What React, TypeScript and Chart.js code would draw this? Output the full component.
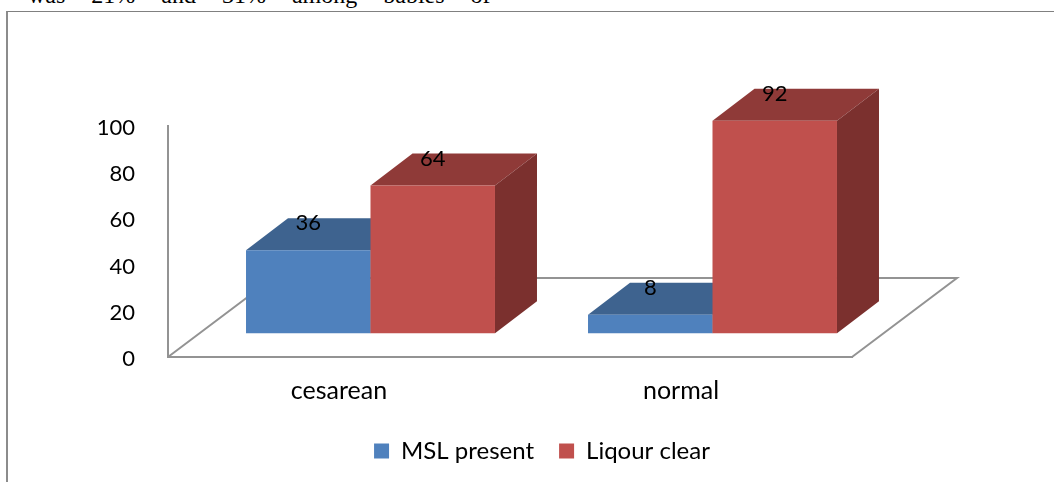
import React, { useEffect, useRef } from "react";
import { Chart, registerables } from "chart.js";

Chart.register(...registerables);

const categories = ["cesarean", "normal"];
const mslPresent = [36, 8];
const liqourClear = [64, 92];
const yMin = 0;
const yMax = 100;
const yStep = 20;

const BLUE = "#4f81bd";
const BLUE_TOP = "#3e638f";
const BLUE_SIDE = "#34537a";
const RED = "#c0504d";
const RED_TOP = "#8f3a38";
const RED_SIDE = "#7b302e";
const AXIS = "#939393";
const FONT = "Lato";

// oblique projection of the floor and of the bars standing on it
const FLOOR_DX = 105;
const FLOOR_DY = -79;
const SHIFT_X = FLOOR_DX * 0.3;
const SHIFT_Y = FLOOR_DY * 0.3;
const BAR_DX = 42;
const BAR_DY = -32;

const shades = [
  { top: BLUE_TOP, side: BLUE_SIDE },
  { top: RED_TOP, side: RED_SIDE },
];

const bars3d = {
  id: "bars3d",
  afterUpdate(chart: any) {
    // the reference's tick labels sit slightly below their tick positions
    chart.scales.y.getLabelItems().forEach((item: any) => {
      item.options.translation[1] += 2;
    });
  },
  beforeDatasetsDraw(chart: any) {
    const { ctx, chartArea: a } = chart;
    ctx.save();
    ctx.strokeStyle = AXIS;
    ctx.lineWidth = 2;
    ctx.beginPath();
    ctx.moveTo(a.left, a.bottom);
    ctx.lineTo(a.left + FLOOR_DX, a.bottom + FLOOR_DY);
    ctx.lineTo(a.right + FLOOR_DX, a.bottom + FLOOR_DY);
    ctx.lineTo(a.right, a.bottom);
    ctx.stroke();
    ctx.restore();

    // series are painted left to right so that the nearer bar hides the side of the previous one
    chart.data.datasets.forEach((_: any, i: number) => {
      const meta = chart.getDatasetMeta(i);
      const s = shades[i];
      ctx.save();
      ctx.translate(SHIFT_X, SHIFT_Y);
      meta.data.forEach((el: any) => {
        const l = el.x - el.width / 2;
        const r = el.x + el.width / 2;
        ctx.fillStyle = s.top;
        ctx.beginPath();
        ctx.moveTo(l, el.y);
        ctx.lineTo(l + BAR_DX, el.y + BAR_DY);
        ctx.lineTo(r + BAR_DX, el.y + BAR_DY);
        ctx.lineTo(r, el.y);
        ctx.closePath();
        ctx.fill();
        ctx.fillStyle = s.side;
        ctx.beginPath();
        ctx.moveTo(r, el.y);
        ctx.lineTo(r + BAR_DX, el.y + BAR_DY);
        ctx.lineTo(r + BAR_DX, el.base + BAR_DY);
        ctx.lineTo(r, el.base);
        ctx.closePath();
        ctx.fill();
        el.draw(ctx);
      });
      ctx.restore();
    });
  },
  beforeDatasetDraw() {
    return false;
  },
  afterDatasetsDraw(chart: any) {
    const { ctx } = chart;
    ctx.save();
    ctx.fillStyle = "#000000";
    ctx.font = `22px ${FONT}`;
    ctx.textAlign = "center";
    ctx.textBaseline = "middle";
    chart.data.datasets.forEach((ds: any, i: number) => {
      chart.getDatasetMeta(i).data.forEach((el: any, j: number) => {
        ctx.fillText(String(ds.data[j]), el.x + SHIFT_X, el.y + SHIFT_Y + BAR_DY + 5);
      });
    });
    ctx.restore();
  },
};

export default function App() {
  const ref = useRef<HTMLCanvasElement>(null);
  useEffect(() => {
    document.body.style.margin = "0";
    const chart = new Chart(ref.current as HTMLCanvasElement, {
      type: "bar",
      data: {
        labels: categories,
        datasets: [
          { label: "MSL present", data: mslPresent, backgroundColor: BLUE },
          { label: "Liqour clear", data: liqourClear, backgroundColor: RED },
        ],
      },
      plugins: [bars3d],
      options: {
        responsive: false,
        animation: false,
        layout: { padding: { left: 30, top: 126, right: 0, bottom: 9 } },
        datasets: { bar: { categoryPercentage: 0.728, barPercentage: 1 } },
        plugins: {
          title: { display: false },
          tooltip: { enabled: false },
          legend: {
            position: "bottom",
            labels: {
              boxWidth: 15,
              boxHeight: 15,
              padding: 25,
              color: "#000000",
              font: { family: FONT, size: 24 },
            },
          },
        },
        scales: {
          x: {
            grid: { display: false },
            border: { color: AXIS, width: 2 },
            ticks: { color: "#000000", font: { family: FONT, size: 25 }, padding: 11, maxRotation: 0 },
            afterFit: (s: any) => { s.height = 57; },
          },
          y: {
            min: yMin,
            max: yMax,
            grid: { display: false },
            border: { color: AXIS, width: 2 },
            ticks: { stepSize: yStep, color: "#000000", font: { family: FONT, size: 22 }, padding: 25 },
            afterFit: (s: any) => { s.width = 138; },
          },
          yRight: {
            position: "right",
            display: true,
            grid: { display: false },
            border: { display: false },
            ticks: { display: false },
            afterFit: (s: any) => { s.width = 202; },
          },
        },
      } as any,
    });
    return () => chart.destroy();
  }, []);
  return (
    <div style={{ position: "relative", width: 1054, height: 482, overflow: "hidden", background: "#fff" }}>
      <div
        style={{
          position: "absolute",
          left: 28,
          top: -18,
          whiteSpace: "pre",
          fontFamily: "'Liberation Serif'",
          fontSize: 24,
          wordSpacing: 20,
          color: "#000",
        }}
      >
        {"was 21% and 31% among babies of"}
      </div>
      <div
        style={{
          position: "absolute",
          left: 6,
          top: 11,
          width: 1060,
          height: 500,
          borderLeft: "2px solid #8c8c8c",
          borderTop: "1px solid #808080",
        }}
      />
      <canvas ref={ref} width={1054} height={482} style={{ position: "absolute", left: 0, top: 0, display: "block" }} />
    </div>
  );
}
